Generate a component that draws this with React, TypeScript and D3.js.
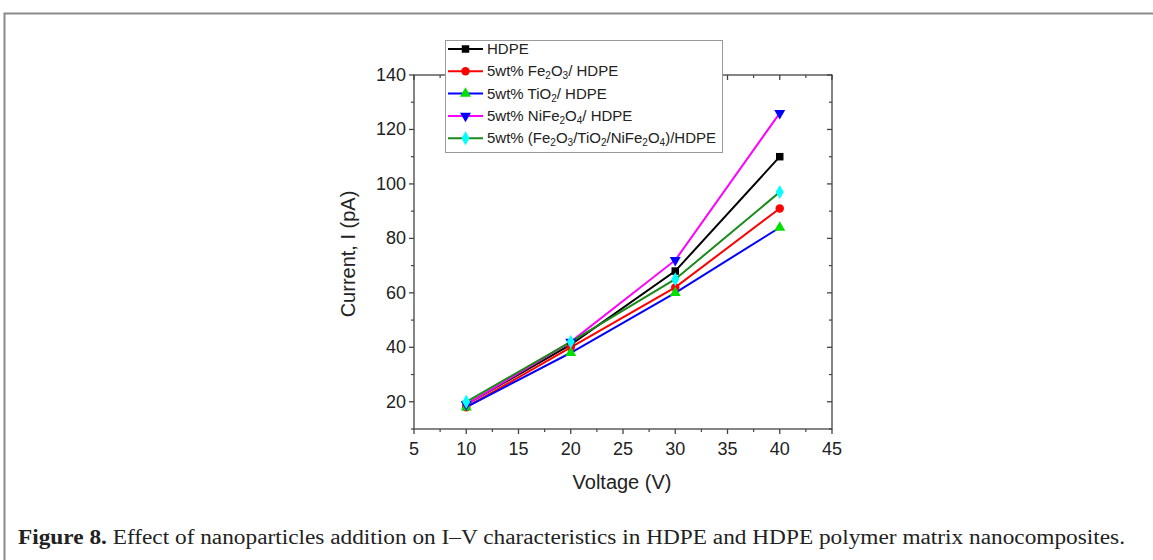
import React from 'react';
import * as d3 from 'd3';

const voltages = [10, 20, 30, 40];
const hdpe = [19, 41, 68, 110];
const fe2o3 = [18, 40, 62, 91];
const tio2 = [18, 38, 60, 84];
const nife2o4 = [19, 42, 72, 126];
const mixed = [20, 42, 65, 97];

const xTicks = [5, 10, 15, 20, 25, 30, 35, 40, 45];
const yTicks = [20, 40, 60, 80, 100, 120, 140];

type Series = {
  key: string;
  values: number[];
  line: string;
  fill: string;
  marker: string;
};

const series: Series[] = [
  { key: 'hdpe', values: hdpe, line: '#000000', fill: '#000000', marker: 'square' },
  { key: 'fe', values: fe2o3, line: '#ff0000', fill: '#ff0000', marker: 'circle' },
  { key: 'ti', values: tio2, line: '#0000ff', fill: '#00e000', marker: 'triangle' },
  { key: 'ni', values: nife2o4, line: '#ff00ff', fill: '#0000ff', marker: 'triangleDown' },
  { key: 'mix', values: mixed, line: '#1a8a1a', fill: '#00ffff', marker: 'diamond' },
];

const symbolFor = (m: string) => {
  if (m === 'square') return d3.symbol(d3.symbolSquare, 56);
  if (m === 'circle') return d3.symbol(d3.symbolCircle, 56);
  if (m === 'diamond') return d3.symbol(d3.symbolDiamond, 56);
  return d3.symbol(d3.symbolTriangle, 52);
};

const Sub = ({ c }: { c: string }) => (
  <tspan baselineShift="-30%" fontSize="10">{c}</tspan>
);

const legendLabels = [
  <>HDPE</>,
  <>5wt% Fe<Sub c="2" />O<Sub c="3" />/ HDPE</>,
  <>5wt% TiO<Sub c="2" />/ HDPE</>,
  <>5wt% NiFe<Sub c="2" />O<Sub c="4" />/ HDPE</>,
  <>5wt% (Fe<Sub c="2" />O<Sub c="3" />/TiO<Sub c="2" />/NiFe<Sub c="2" />O<Sub c="4" />)/HDPE</>,
];

const App = () => {
  const width = 1153;
  const height = 560;
  const left = 414;
  const right = 832;
  const top = 75;
  const bottom = 429;

  const x = d3.scaleLinear().domain([5, 45]).range([left, right]);
  const y = d3.scaleLinear().domain([10, 140]).range([bottom, top]);

  const line = d3
    .line<number>()
    .x((d, i) => x(voltages[i]))
    .y((d) => y(d));

  const xMinor = d3.range(7.5, 45, 5);
  const yMinor = d3.range(10, 140, 20);

  const font = 'Arial, "Liberation Sans", sans-serif';

  const marker = (s: Series, cx: number, cy: number, k: string) => (
    <path
      key={k}
      d={symbolFor(s.marker)() as string}
      transform={`translate(${cx},${cy})${s.marker === 'triangleDown' ? ' rotate(180)' : ''}`}
      fill={s.fill}
    />
  );

  return (
    <svg
      width={width}
      height={height}
      style={{ position: 'absolute', left: 0, top: 0, background: '#fff' }}
    >
      {/* outer figure frame */}
      <path d={`M4.5,${height} V13.5 H${width}`} fill="none" stroke="#8a8a8a" strokeWidth={2} />

      {/* plot frame */}
      <rect x={left} y={top} width={right - left} height={bottom - top} fill="none" stroke="#444" strokeWidth={1.3} />

      {/* x ticks */}
      {xTicks.map((t) => (
        <g key={'xt' + t}>
          <line x1={x(t)} x2={x(t)} y1={bottom} y2={bottom + 5} stroke="#444" strokeWidth={1.3} />
          <line x1={x(t)} x2={x(t)} y1={top} y2={top + 5} stroke="#444" strokeWidth={1.3} />
          <text x={x(t)} y={bottom + 26} textAnchor="middle" fontFamily={font} fontSize={18} fill="#222">
            {t}
          </text>
        </g>
      ))}
      {xMinor.map((t) => (
        <g key={'xm' + t}>
          <line x1={x(t)} x2={x(t)} y1={bottom} y2={bottom + 3} stroke="#444" strokeWidth={1.2} />
          <line x1={x(t)} x2={x(t)} y1={top} y2={top + 3} stroke="#444" strokeWidth={1.2} />
        </g>
      ))}

      {/* y ticks */}
      {yTicks.map((t) => (
        <g key={'yt' + t}>
          <line x1={left - 5} x2={left} y1={y(t)} y2={y(t)} stroke="#444" strokeWidth={1.3} />
          <line x1={right - 5} x2={right} y1={y(t)} y2={y(t)} stroke="#444" strokeWidth={1.3} />
          <text x={left - 8} y={y(t) + 6} textAnchor="end" fontFamily={font} fontSize={18} fill="#222">
            {t}
          </text>
        </g>
      ))}
      {yMinor.map((t) => (
        <g key={'ym' + t}>
          <line x1={left - 3} x2={left} y1={y(t)} y2={y(t)} stroke="#444" strokeWidth={1.2} />
          <line x1={right - 3} x2={right} y1={y(t)} y2={y(t)} stroke="#444" strokeWidth={1.2} />
        </g>
      ))}

      {/* axis titles */}
      <text x={622} y={489} textAnchor="middle" fontFamily={font} fontSize={20} fill="#222">
        Voltage (V)
      </text>
      <text
        transform={`translate(355,${(top + bottom) / 2 + 2}) rotate(-90)`}
        textAnchor="middle"
        fontFamily={font}
        fontSize={20}
        fill="#222"
      >
        Current, I (pA)
      </text>

      {/* series */}
      {series.map((s) => (
        <path key={s.key} d={line(s.values) as string} fill="none" stroke={s.line} strokeWidth={2} />
      ))}
      {series.map((s) => s.values.map((v, i) => marker(s, x(voltages[i]), y(v), s.key + i)))}

      {/* legend */}
      <rect x={445.5} y={40.5} width={277} height={112} fill="#fff" stroke="#999" strokeWidth={1} />
      {series.map((s, i) => {
        const ly = 49 + i * 22.3;
        return (
          <g key={'lg' + s.key}>
            <line x1={448} x2={483} y1={ly} y2={ly} stroke={s.line} strokeWidth={2} />
            {marker(s, 465.5, ly, 'lm' + s.key)}
            <text x={487} y={ly + 5} fontFamily={font} fontSize={15} fill="#222">
              {legendLabels[i]}
            </text>
          </g>
        );
      })}

      {/* caption */}
      <text
        x={18}
        y={544}
        fontFamily='"Liberation Serif", "Times New Roman", serif'
        fontSize={20}
        fill="#222"
        textLength={1107}
        lengthAdjust="spacingAndGlyphs"
      >
        <tspan fontWeight="bold">Figure 8.</tspan> Effect of nanoparticles addition on I–V characteristics in HDPE and HDPE polymer matrix nanocomposites.
      </text>
    </svg>
  );
};

export default App;
